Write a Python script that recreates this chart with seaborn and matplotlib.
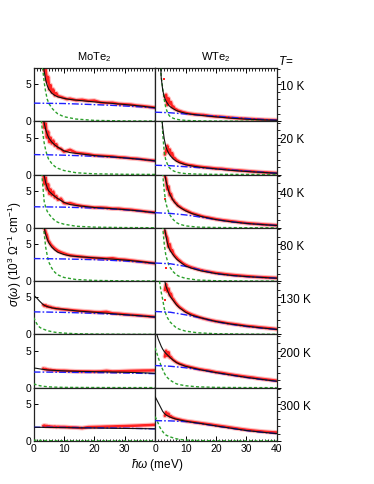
import matplotlib
matplotlib.use("Agg")
import matplotlib.pyplot as plt
import seaborn as sns
from matplotlib.ticker import MultipleLocator, FixedLocator, FixedFormatter

# ---------------- data ----------------
TEMPS = ["10 K", "20 K", "40 K", "80 K", "130 K", "200 K", "300 K"]

X_DATA = [3.2, 3.6, 4, 4.4, 4.8, 5.2, 5.6, 6, 6.5, 7, 7.5, 8, 9, 10, 11, 12, 14, 16,
          18, 20, 22, 24, 26, 28, 30, 32, 34, 36, 38, 40]
X_FIT = [0, 1, 2, 2.5, 3, 3.5, 4, 4.5, 5, 6, 7, 8, 10, 12, 15, 20, 25, 30, 35, 40]
X_BROAD = [0, 5, 10, 15, 20, 25, 30, 35, 40]
X_NARROW = [0, 1, 1.5, 2, 2.5, 3, 3.5, 4, 4.5, 5, 6, 7, 8, 10, 14, 20, 30, 40]

MOTE2_DATA = [
    [7.6, 6.8, 7.0, 5.4, 6.0, 4.3, 4.9, 3.9, 4.3, 3.5, 3.8, 3.4, 3.3, 3.15, 3.0, 3.05, 2.85, 2.9, 2.75, 2.8, 2.55, 2.5, 2.5, 2.35, 2.3, 2.25, 2.12, 2.05, 1.95, 1.85],
    [7.8, 6.3, 6.9, 5.0, 5.8, 4.4, 5.0, 4.2, 4.6, 3.9, 4.1, 3.6, 3.5, 3.1, 3.2, 3.35, 2.95, 2.85, 2.75, 2.6, 2.55, 2.5, 2.45, 2.35, 2.3, 2.2, 2.15, 2.05, 1.95, 1.87],
    [7.5, 5.9, 6.8, 5.2, 5.9, 4.6, 5.2, 4.4, 4.9, 4.1, 4.3, 3.8, 3.95, 3.35, 3.3, 3.35, 3.1, 2.95, 2.85, 2.75, 2.75, 2.7, 2.6, 2.6, 2.5, 2.45, 2.35, 2.25, 2.15, 2.08],
    [7.8, 7.2, 6.6, 6.2, 5.5, 5.3, 5.0, 4.8, 4.6, 4.4, 4.25, 4.1, 3.9, 3.75, 3.6, 3.5, 3.38, 3.3, 3.2, 3.15, 3.1, 3.05, 3.1, 2.95, 2.9, 2.8, 2.7, 2.6, 2.5, 2.42],
    [4.0, 3.85, 3.95, 3.75, 3.8, 3.7, 3.72, 3.62, 3.6, 3.55, 3.5, 3.5, 3.42, 3.38, 3.35, 3.3, 3.22, 3.15, 3.1, 3.02, 3.0, 3.05, 2.85, 2.8, 2.72, 2.65, 2.6, 2.52, 2.45, 2.37],
    [2.6, 2.5, 2.55, 2.45, 2.45, 2.4, 2.42, 2.38, 2.36, 2.35, 2.32, 2.32, 2.3, 2.3, 2.28, 2.25, 2.22, 2.2, 2.2, 2.18, 2.2, 2.28, 2.2, 2.22, 2.25, 2.28, 2.3, 2.32, 2.33, 2.35],
    [2.05, 2.1, 2.0, 2.05, 1.98, 2.0, 1.95, 1.95, 1.92, 1.95, 1.9, 1.92, 1.9, 1.9, 1.88, 1.85, 1.82, 1.75, 1.88, 1.9, 1.92, 1.95, 1.97, 2.0, 2.02, 2.05, 2.08, 2.12, 2.15, 2.2],
]
MOTE2_FIT = [
    [40, 25, 15, 11.5, 8.6, 6.8, 5.6, 4.85, 4.35, 3.8, 3.5, 3.3, 3.1, 2.95, 2.82, 2.62, 2.45, 2.27, 2.07, 1.83],
    [40, 25, 15, 11.5, 8.6, 7.0, 6.1, 5.45, 4.95, 4.4, 4.0, 3.7, 3.2, 2.97, 2.82, 2.57, 2.42, 2.25, 2.07, 1.85],
    [40, 25, 15, 11.5, 8.6, 7.1, 6.1, 5.45, 5.0, 4.6, 4.25, 3.95, 3.45, 3.15, 2.97, 2.75, 2.62, 2.47, 2.28, 2.05],
    [40, 25, 15, 11.5, 8.5, 7.2, 6.3, 5.7, 5.2, 4.6, 4.2, 3.9, 3.6, 3.42, 3.3, 3.15, 3.0, 2.85, 2.65, 2.4],
    [5.3, 4.95, 4.5, 4.3, 4.1, 3.95, 3.85, 3.77, 3.7, 3.6, 3.52, 3.47, 3.38, 3.28, 3.15, 3.0, 2.83, 2.67, 2.52, 2.35],
    [2.67, 2.62, 2.55, 2.52, 2.49, 2.46, 2.43, 2.41, 2.39, 2.36, 2.34, 2.32, 2.28, 2.25, 2.21, 2.17, 2.13, 2.09, 2.03, 1.95],
    [1.86, 1.86, 1.85, 1.85, 1.85, 1.84, 1.84, 1.84, 1.83, 1.83, 1.82, 1.82, 1.81, 1.8, 1.78, 1.76, 1.73, 1.7, 1.68, 1.65],
]
MOTE2_BROAD = [
    [2.45, 2.43, 2.4, 2.33, 2.25, 2.17, 2.07, 1.95, 1.8],
    [2.7, 2.67, 2.62, 2.55, 2.47, 2.38, 2.25, 2.07, 1.85],
    [2.85, 2.83, 2.8, 2.74, 2.67, 2.58, 2.45, 2.27, 2.03],
    [3.05, 3.03, 3.0, 2.95, 2.9, 2.82, 2.72, 2.57, 2.38],
    [3.05, 3.02, 2.98, 2.92, 2.85, 2.76, 2.65, 2.51, 2.35],
    [2.12, 2.11, 2.09, 2.07, 2.05, 2.02, 1.99, 1.95, 1.9],
    [1.86, 1.86, 1.84, 1.82, 1.79, 1.76, 1.73, 1.69, 1.64],
]
MOTE2_NARROW = [
    [40, 30, 22, 15, 10, 7.2, 5.3, 4.0, 3.0, 2.45, 1.8, 1.35, 1.0, 0.62, 0.3, 0.12, 0.05, 0.03],
    [40, 25, 17, 11, 7.5, 5.7, 4.3, 3.3, 2.55, 2.05, 1.5, 1.1, 0.85, 0.55, 0.25, 0.1, 0.04, 0.02],
    [40, 25, 17, 12, 8.5, 6.0, 3.6, 2.8, 2.25, 1.9, 1.4, 1.0, 0.75, 0.5, 0.22, 0.1, 0.04, 0.02],
    [40, 30, 24, 18, 13, 9.0, 6.5, 4.6, 3.5, 2.6, 1.75, 1.2, 0.85, 0.5, 0.22, 0.1, 0.04, 0.02],
    [2.3, 1.5, 1.18, 0.98, 0.85, 0.75, 0.68, 0.6, 0.53, 0.47, 0.38, 0.3, 0.25, 0.18, 0.1, 0.05, 0.02, 0.01],
    [0.52, 0.4, 0.33, 0.28, 0.24, 0.2, 0.18, 0.16, 0.14, 0.12, 0.1, 0.08, 0.07, 0.05, 0.04, 0.03, 0.02, 0.02],
    [0.12, 0.1, 0.09, 0.08, 0.07, 0.06, 0.06, 0.05, 0.05, 0.04, 0.04, 0.03, 0.03, 0.03, 0.02, 0.02, 0.02, 0.02],
]

WTE2_DATA = [
    [3.3, 3.6, 2.2, 3.1, 2.4, 2.6, 1.9, 2.0, 1.65, 1.6, 1.45, 1.4, 1.25, 1.15, 1.05, 1.0, 0.9, 0.85, 0.72, 0.65, 0.6, 0.52, 0.45, 0.4, 0.34, 0.3, 0.25, 0.2, 0.17, 0.15],
    [2.7, 3.2, 3.9, 3.0, 3.4, 2.7, 2.9, 2.3, 2.2, 1.95, 1.85, 1.7, 1.55, 1.4, 1.3, 1.25, 1.1, 1.0, 0.92, 0.82, 0.78, 0.68, 0.6, 0.55, 0.48, 0.42, 0.35, 0.3, 0.25, 0.2],
    [7.0, 6.6, 5.2, 5.6, 4.4, 4.6, 3.9, 3.8, 3.45, 3.3, 3.0, 2.9, 2.6, 2.4, 2.2, 2.0, 1.75, 1.5, 1.35, 1.18, 1.05, 0.95, 0.85, 0.75, 0.65, 0.58, 0.52, 0.45, 0.4, 0.35],
    [6.8, 6.2, 5.8, 4.6, 5.0, 4.1, 4.2, 3.7, 3.4, 3.2, 2.95, 2.8, 2.45, 2.2, 2.0, 1.85, 1.6, 1.4, 1.25, 1.1, 1.0, 0.9, 0.82, 0.75, 0.68, 0.62, 0.56, 0.52, 0.47, 0.43],
    [6.0, 6.8, 5.8, 6.2, 5.3, 5.5, 4.9, 4.75, 4.4, 4.15, 3.9, 3.7, 3.4, 3.1, 2.88, 2.7, 2.4, 2.15, 1.95, 1.78, 1.65, 1.5, 1.4, 1.28, 1.15, 1.08, 0.98, 0.9, 0.82, 0.72],
    [4.2, 5.0, 4.3, 4.8, 4.1, 4.15, 3.9, 3.75, 3.6, 3.45, 3.35, 3.25, 3.1, 2.95, 2.85, 2.75, 2.55, 2.4, 2.28, 2.1, 2.0, 1.85, 1.72, 1.6, 1.48, 1.38, 1.25, 1.15, 1.05, 0.95],
    [3.4, 3.9, 3.5, 3.7, 3.3, 3.35, 3.2, 3.15, 3.05, 3.0, 2.95, 2.9, 2.8, 2.72, 2.65, 2.6, 2.48, 2.36, 2.25, 2.12, 2.0, 1.88, 1.75, 1.63, 1.52, 1.42, 1.34, 1.26, 1.2, 1.15],
]
WTE2_OUT_ROW = [0, 2, 3, 4]
WTE2_OUT_X = [3.0, 3.1, 3.6, 3.3]
WTE2_OUT_Y = [5.7, 3.9, 1.8, 4.7]
WTE2_FIT = [
    [60, 14, 5.9, 4.2, 3.3, 2.8, 2.45, 2.15, 1.95, 1.68, 1.45, 1.3, 1.08, 0.95, 0.8, 0.6, 0.42, 0.29, 0.2, 0.13],
    [60, 20, 8.5, 6.3, 4.8, 3.8, 3.25, 2.85, 2.55, 2.1, 1.8, 1.6, 1.33, 1.17, 0.98, 0.77, 0.57, 0.42, 0.3, 0.18],
    [60, 30, 14, 10, 7.6, 6.5, 5.6, 4.9, 4.4, 3.65, 3.15, 2.8, 2.3, 1.95, 1.55, 1.12, 0.82, 0.6, 0.45, 0.32],
    [60, 30, 14, 10, 7.5, 6.2, 5.2, 4.5, 4.1, 3.5, 3.0, 2.65, 2.05, 1.75, 1.4, 1.03, 0.78, 0.62, 0.5, 0.4],
    [60, 30, 14, 10, 7.6, 6.6, 6.0, 5.5, 5.1, 4.55, 4.0, 3.6, 3.0, 2.6, 2.25, 1.75, 1.4, 1.12, 0.88, 0.68],
    [8.0, 6.6, 5.6, 5.2, 4.9, 4.65, 4.45, 4.25, 4.05, 3.7, 3.4, 3.2, 2.9, 2.7, 2.42, 2.05, 1.72, 1.4, 1.13, 0.88],
    [6.0, 5.2, 4.4, 4.0, 3.75, 3.55, 3.42, 3.32, 3.22, 3.07, 2.95, 2.85, 2.68, 2.55, 2.37, 2.04, 1.73, 1.42, 1.2, 1.0],
]
WTE2_BROAD = [
    [1.23, 1.15, 0.98, 0.83, 0.68, 0.52, 0.38, 0.25, 0.14],
    [1.26, 1.2, 1.06, 0.92, 0.77, 0.62, 0.47, 0.32, 0.18],
    [2.05, 1.95, 1.75, 1.45, 1.12, 0.82, 0.6, 0.45, 0.31],
    [2.45, 2.35, 2.0, 1.5, 1.0, 0.77, 0.61, 0.5, 0.4],
    [3.1, 3.0, 2.65, 2.22, 1.72, 1.36, 1.08, 0.86, 0.67],
    [3.0, 2.9, 2.7, 2.4, 2.02, 1.7, 1.38, 1.11, 0.87],
    [2.75, 2.72, 2.62, 2.35, 2.02, 1.72, 1.41, 1.18, 0.99],
]
WTE2_NARROW = [
    [80, 20, 9.5, 6.0, 4.4, 2.9, 1.85, 1.25, 0.85, 0.6, 0.4, 0.28, 0.2, 0.12, 0.06, 0.03, 0.02, 0.01],
    [80, 30, 17, 10, 5.5, 3.0, 1.95, 1.45, 1.0, 0.8, 0.5, 0.34, 0.24, 0.13, 0.06, 0.03, 0.02, 0.01],
    [80, 30, 18, 11, 7.2, 5.0, 3.4, 2.7, 2.05, 1.65, 1.1, 0.72, 0.5, 0.27, 0.1, 0.05, 0.02, 0.01],
    [80, 30, 18, 11, 7.2, 5.0, 3.55, 2.8, 2.2, 1.8, 1.25, 0.85, 0.63, 0.38, 0.15, 0.06, 0.02, 0.01],
    [40, 10, 7.0, 5.7, 4.7, 3.5, 2.8, 2.3, 1.95, 1.65, 1.25, 0.88, 0.7, 0.45, 0.22, 0.1, 0.04, 0.02],
    [5.4, 4.1, 3.5, 2.9, 2.45, 2.0, 1.6, 1.38, 1.18, 1.0, 0.75, 0.53, 0.42, 0.27, 0.12, 0.05, 0.02, 0.01],
    [3.3, 2.4, 1.9, 1.55, 1.27, 1.0, 0.82, 0.72, 0.63, 0.55, 0.42, 0.3, 0.22, 0.13, 0.06, 0.03, 0.02, 0.01],
]

# ---------------- styling ----------------
sns.set_theme(style="ticks")
plt.rcParams["font.family"] = ["Liberation Sans", "DejaVu Sans"]
plt.rcParams["mathtext.fontset"] = "custom"
plt.rcParams["mathtext.rm"] = "Liberation Sans"
plt.rcParams["mathtext.it"] = "Liberation Sans:italic"
plt.rcParams["mathtext.fallback"] = "stixsans"
for key in ["text.color", "axes.labelcolor", "xtick.color", "ytick.color"]:
    plt.rcParams[key] = "black"

RED = "#ff2222"
BLUE = "#2020ff"
GREEN = "#2ca02c"

fig, axes = plt.subplots(7, 2, figsize=(3.74, 4.84), dpi=100)
fig.subplots_adjust(left=0.0896, right=0.740, top=0.8595, bottom=0.0888,
                    wspace=0, hspace=0)

columns = [
    (MOTE2_DATA, MOTE2_FIT, MOTE2_BROAD, MOTE2_NARROW),
    (WTE2_DATA, WTE2_FIT, WTE2_BROAD, WTE2_NARROW),
]

for r in range(7):
    for c in range(2):
        ax = axes[r, c]
        data, fit, broad, narrow = columns[c]
        # light halo + data band
        sns.lineplot(x=X_DATA, y=data[r], ax=ax, color="#ff9090", lw=3.4, alpha=0.6,
                     estimator=None, sort=False, zorder=1)
        sns.lineplot(x=X_DATA, y=data[r], ax=ax, color=RED, lw=1.8,
                     estimator=None, sort=False, zorder=2)
        if c == 1:
            ox = [x for k, x in zip(WTE2_OUT_ROW, WTE2_OUT_X) if k == r]
            oy = [y for k, y in zip(WTE2_OUT_ROW, WTE2_OUT_Y) if k == r]
            if ox:
                sns.scatterplot(x=ox, y=oy, ax=ax, color=RED, marker="s", s=4,
                                linewidth=0, zorder=2)
        sns.lineplot(x=X_NARROW, y=narrow[r], ax=ax, color=GREEN, lw=1.0,
                     linestyle=(0, (2.2, 1.6)), estimator=None, sort=False, zorder=3)
        sns.lineplot(x=X_BROAD, y=broad[r], ax=ax, color=BLUE, lw=1.0,
                     linestyle=(0, (5, 1.5, 1.2, 1.5)), estimator=None, sort=False, zorder=3)
        sns.lineplot(x=X_FIT, y=fit[r], ax=ax, color="#111111", lw=0.8,
                     estimator=None, sort=False, zorder=4)

        ax.set_xlim(0, 40)
        ax.set_ylim(0, 7.2)
        ax.set_xlabel("")
        ax.set_ylabel("")
        for sp in ax.spines.values():
            sp.set_linewidth(0.9)
            sp.set_color("#222222")
        ax.xaxis.set_major_locator(FixedLocator([0, 10, 20, 30, 40]))
        ax.xaxis.set_minor_locator(MultipleLocator(1))
        labels = ["0", "10", "20", "30", "40"] if c == 1 else ["0", "10", "20", "30", ""]
        ax.xaxis.set_major_formatter(FixedFormatter(labels))
        ax.tick_params(axis="x", which="both", direction="in",
                       top=(r == 0), bottom=(r == 6), labelbottom=(r == 6),
                       labelsize=7.5, pad=2)
        ax.tick_params(axis="x", which="major", length=3.5, width=0.7)
        ax.tick_params(axis="x", which="minor", length=1.8, width=0.6)
        ax.yaxis.set_major_locator(FixedLocator([0, 5]))
        if c == 0:
            ax.tick_params(axis="y", which="major", direction="in", left=True, right=False,
                           labelleft=True, labelsize=7.5, length=3, width=0.7, pad=1.5)
            ax.tick_params(axis="y", which="minor", left=False, right=False)
        else:
            ax.yaxis.set_minor_locator(MultipleLocator(1))
            ax.tick_params(axis="y", which="both", direction="out", left=False, right=True,
                           labelleft=False, labelright=False)
            ax.tick_params(axis="y", which="major", length=3, width=0.7)
            ax.tick_params(axis="y", which="minor", length=2, width=0.6)
            ax.text(1.03, 0.64, TEMPS[r], transform=ax.transAxes, ha="left",
                    va="center", fontsize=8.5)

axes[0, 0].text(0.5, 1.2, "MoTe$_2$", transform=axes[0, 0].transAxes,
                ha="center", va="center", fontsize=8)
axes[0, 1].text(0.5, 1.2, "WTe$_2$", transform=axes[0, 1].transAxes,
                ha="center", va="center", fontsize=8)
fig.text(0.743, 0.872, r"$T$=", ha="left", va="center", fontsize=8.5)
fig.text(0.04, 0.474, r"$\sigma(\omega)$ (10$^3$ $\Omega^{-1}$ cm$^{-1}$)",
         rotation=90, ha="center", va="center", fontsize=8.5)
fig.text(0.42, 0.039, r"$\hbar\omega$ (meV)", ha="center", va="center", fontsize=8.5)

fig.savefig("out.png", dpi=100)
